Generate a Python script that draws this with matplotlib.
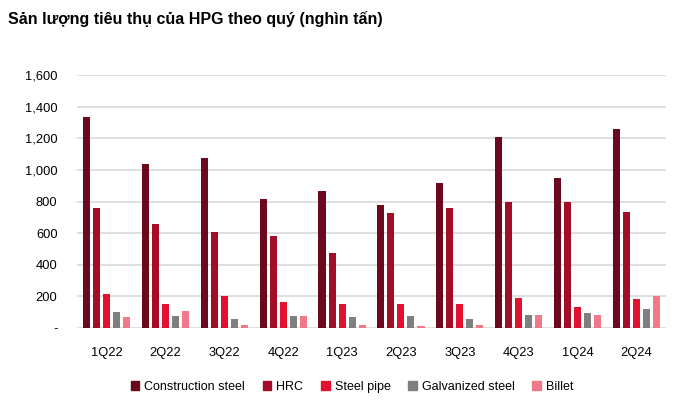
import matplotlib
matplotlib.use("Agg")
import matplotlib.pyplot as plt
import numpy as np
from matplotlib import font_manager

quarters = ["1Q22", "2Q22", "3Q22", "4Q22", "1Q23", "2Q23", "3Q23", "4Q23", "1Q24", "2Q24"]
construction_steel = [1333, 1038, 1074, 815, 867, 779, 914, 1208, 949, 1261]
hrc = [762, 655, 610, 583, 476, 726, 762, 798, 798, 735]
steel_pipe = [217, 154, 200, 164, 154, 154, 154, 192, 131, 183]
galvanized_steel = [101, 76, 59, 76, 67, 76, 59, 84, 95, 120]
billet = [67, 109, 21, 76, 21, 13, 21, 84, 84, 200]
series_names = ["Construction steel", "HRC", "Steel pipe", "Galvanized steel", "Billet"]
y_ticks = [0, 200, 400, 600, 800, 1000, 1200, 1400, 1600]
y_tick_labels = ["-", "200", "400", "600", "800", "1,000", "1,200", "1,400", "1,600"]
title = "Sản lượng tiêu thụ của HPG theo quý (nghìn tấn)"

names = {f.name for f in font_manager.fontManager.ttflist}
narrow = "Liberation Sans Narrow" if "Liberation Sans Narrow" in names else "Liberation Sans"
plt.rcParams["font.family"] = [narrow, "DejaVu Sans"]

colors = ["#6A0A1C", "#A30D28", "#E2112F", "#7F7F7F", "#F07888"]
series = [construction_steel, hrc, steel_pipe, galvanized_steel, billet]

fig = plt.figure(figsize=(6.9, 4.07), dpi=100)
ax = fig.add_axes([77/690, 1-328/407, (666-77)/690, (328-75)/407])

x = np.arange(len(quarters))
step = 0.17
width = 0.12
for i, (vals, name, c) in enumerate(zip(series, series_names, colors)):
    ax.bar(x + (i - 2) * step, vals, width=width, color=c, label=name, zorder=3)

ax.set_xlim(-0.5, len(quarters) - 0.5)
ax.set_ylim(0, 1600)
ax.set_yticks(y_ticks)
ax.set_yticklabels(y_tick_labels)
ax.set_xticks(x)
ax.set_xticklabels(quarters)
ax.grid(axis="y", color="#D9D9D9", linewidth=1.2, zorder=0)
for s in ax.spines.values():
    s.set_visible(False)
ax.tick_params(axis="both", length=0, labelsize=9.3, colors="black")
ax.tick_params(axis="y", pad=14)
ax.tick_params(axis="x", pad=14)
for lbl in ax.get_yticklabels():
    lbl.set_horizontalalignment("right")

fig.text(8/690, 1-19/407, title, fontsize=11.5, fontweight="bold", va="center", ha="left")

handles = [plt.Rectangle((0, 0), 1, 1, color=c) for c in colors]
fig.legend(handles, series_names, loc="center", bbox_to_anchor=(352/690, 1-387/407),
           ncol=5, frameon=False, fontsize=9, handlelength=0.7, handleheight=0.7,
           handletextpad=0.4, columnspacing=1.4)

fig.savefig("out.png", dpi=100)
